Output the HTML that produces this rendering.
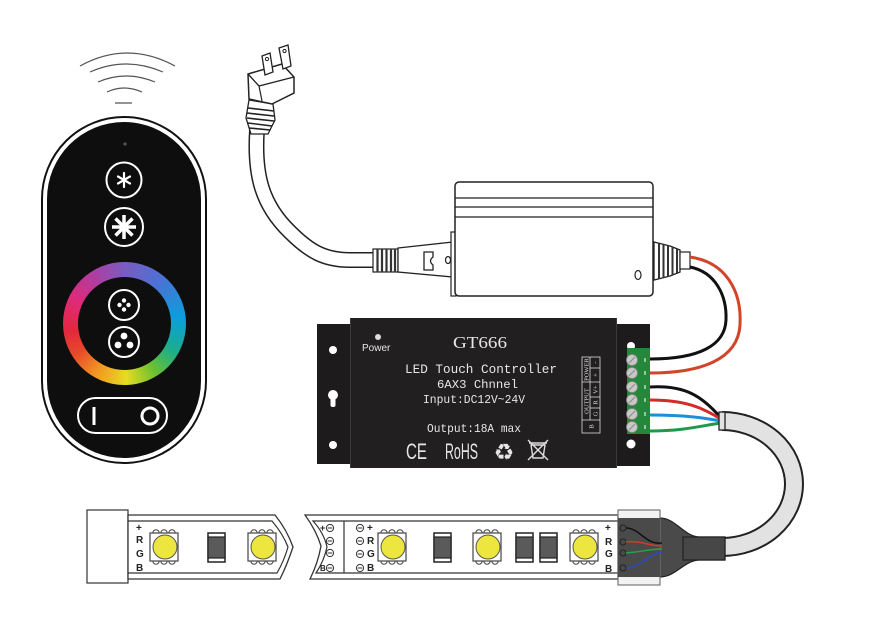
<!DOCTYPE html>
<html><head><meta charset="utf-8">
<style>
html,body{margin:0;padding:0;background:#fff;}
body{width:884px;height:630px;position:relative;overflow:hidden;}
svg{position:absolute;left:0;top:0;}
.ring{position:absolute;left:62.5px;top:261.5px;width:123px;height:123px;border-radius:50%;
background:conic-gradient(from 0deg,#7a5cc0 0deg,#4a72d4 40deg,#0c9edc 85deg,#1cae8a 120deg,#6cc030 148deg,#e6dc22 178deg,#f29a22 208deg,#e8482a 238deg,#e2283c 262deg,#e02a78 295deg,#b23c9e 325deg,#7a5cc0 360deg);}
.ringin{position:absolute;left:77.5px;top:276.5px;width:93px;height:93px;border-radius:50%;background:#0e0e0e;}
</style></head><body>
<svg width="884" height="630" viewBox="0 0 884 630">
<defs>
<g id="led">
<circle cx="-8" cy="-14" r="3.2" fill="#fff" stroke="#444" stroke-width="1"/>
<circle cx="0" cy="-14" r="3.2" fill="#fff" stroke="#444" stroke-width="1"/>
<circle cx="8" cy="-14" r="3.2" fill="#fff" stroke="#444" stroke-width="1"/>
<circle cx="-8" cy="14" r="3.2" fill="#fff" stroke="#444" stroke-width="1"/>
<circle cx="0" cy="14" r="3.2" fill="#fff" stroke="#444" stroke-width="1"/>
<circle cx="8" cy="14" r="3.2" fill="#fff" stroke="#444" stroke-width="1"/>
<rect x="-14" y="-14" width="28" height="28" fill="#fff" stroke="#444" stroke-width="1.2"/>
<circle cx="1" cy="0" r="12" fill="#ece63f" stroke="#555" stroke-width="1"/>
</g>
<g id="res">
<rect x="0" y="0" width="17" height="29" fill="#fff" stroke="#222" stroke-width="1.5"/>
<rect x="0" y="4" width="17" height="21" fill="#5a5a5a" stroke="#222" stroke-width="1.2"/>
</g>
<g id="minus">
<circle cx="0" cy="0" r="3.6" fill="none" stroke="#333" stroke-width="1"/>
<line x1="-2.4" y1="0" x2="2.4" y2="0" stroke="#333" stroke-width="1"/>
</g>
</defs>

<!-- wifi arcs -->
<g fill="none" stroke="#555" stroke-width="1.2">
<path d="M80,66 Q127,40 175,66"/>
<path d="M90,72 Q126,56 163,72"/>
<path d="M98,82 Q126,70 155,82"/>
<path d="M107,92 Q124,84 142,92"/>
<path d="M115,103 L132,103"/>
</g>

<!-- remote -->
<rect x="42" y="117" width="164" height="346" rx="82" fill="#fff" stroke="#111" stroke-width="2"/>
<rect x="47" y="122" width="154" height="336" rx="77" fill="#0e0e0e"/>
<circle cx="125" cy="144" r="1.6" fill="#555"/>
<circle cx="124" cy="180" r="17.5" fill="none" stroke="#fff" stroke-width="2"/>
<g stroke="#fff" stroke-width="2.2" stroke-linecap="round">
<line x1="124" y1="173" x2="124" y2="187"/>
<line x1="118" y1="176.5" x2="130" y2="183.5"/>
<line x1="118" y1="183.5" x2="130" y2="176.5"/>
</g>
<circle cx="124" cy="227" r="19" fill="none" stroke="#fff" stroke-width="2"/>
<g stroke="#fff" stroke-width="3.5" stroke-linecap="butt">
<line x1="124" y1="215" x2="124" y2="239"/>
<line x1="112" y1="227" x2="136" y2="227"/>
<line x1="115.5" y1="218.5" x2="132.5" y2="235.5"/>
<line x1="115.5" y1="235.5" x2="132.5" y2="218.5"/>
</g>
<rect x="78" y="398" width="89" height="35" rx="17.5" fill="none" stroke="#fff" stroke-width="2"/>
<line x1="94" y1="407" x2="94" y2="425" stroke="#fff" stroke-width="3"/>
<circle cx="150" cy="416" r="8" fill="none" stroke="#fff" stroke-width="3"/>

<!-- plug cord -->
<path d="M257,130 C254,175 262,205 290,232 C310,252 325,260 350,260 L376,260" fill="none" stroke="#222" stroke-width="16"/>
<path d="M257,130 C254,175 262,205 290,232 C310,252 325,260 350,260 L376,260" fill="none" stroke="#fff" stroke-width="13"/>
<polygon points="249,100 273,104 275,120 268,134 251,134 246,118" fill="#fff" stroke="#222" stroke-width="1.3"/>
<g stroke="#222" stroke-width="1.6">
<line x1="248" y1="108" x2="274" y2="111"/>
<line x1="247" y1="113" x2="274" y2="116"/>
<line x1="247" y1="118" x2="274" y2="121"/>
<line x1="248" y1="123" x2="272" y2="126"/>
<line x1="249" y1="128" x2="270" y2="130"/>
</g>
<polygon points="248,74 282,64 294,77 294,93 272,104 249,99" fill="#fff" stroke="#222" stroke-width="1.5"/>
<polyline points="248,74 259,86 294,77" fill="none" stroke="#222" stroke-width="1.3"/>
<line x1="259" y1="86" x2="262" y2="101" stroke="#222" stroke-width="1.2"/>
<polygon points="262,56 270,53 273,72 265,75" fill="#fff" stroke="#222" stroke-width="1.3"/>
<polygon points="279,48 288,45 291,66 283,69" fill="#fff" stroke="#222" stroke-width="1.3"/>
<circle cx="267" cy="59" r="1.6" fill="none" stroke="#222"/>
<circle cx="284.5" cy="51" r="1.6" fill="none" stroke="#222"/>

<!-- PSU connector -->
<rect x="373" y="249" width="25" height="23" fill="#fff" stroke="#222" stroke-width="1.2"/>
<g stroke="#333" stroke-width="2.2">
<line x1="377.5" y1="249" x2="377.5" y2="272"/>
<line x1="382" y1="249" x2="382" y2="272"/>
<line x1="386.5" y1="249" x2="386.5" y2="272"/>
<line x1="391" y1="249" x2="391" y2="272"/>
<line x1="395" y1="249" x2="395" y2="272"/>
</g>
<polygon points="398,248 453,242 453,277 398,272" fill="#fff" stroke="#222" stroke-width="1.3"/>
<path d="M424,252 L433,252 L433,257 Q428,261 433,265 L433,270 L424,270 Z" fill="none" stroke="#222" stroke-width="1.3"/>
<ellipse cx="448" cy="260" rx="2.5" ry="3.5" fill="none" stroke="#222" stroke-width="1.2"/>

<!-- PSU -->
<rect x="451" y="232" width="5" height="64" fill="#fff" stroke="#222" stroke-width="1.2"/>
<rect x="455" y="182" width="198" height="114" rx="4" fill="#fff" stroke="#222" stroke-width="1.5"/>
<g stroke="#222" stroke-width="1.3">
<line x1="455" y1="198" x2="653" y2="198"/>
<line x1="455" y1="207" x2="653" y2="207"/>
<line x1="455" y1="217" x2="653" y2="217"/>
</g>
<ellipse cx="638" cy="275" rx="3" ry="4.5" fill="none" stroke="#222" stroke-width="1.2"/>
<polygon points="654,242 670,246 680,250 680,272 670,276 654,280" fill="#fff" stroke="#222" stroke-width="1.3"/>
<g stroke="#333" stroke-width="2">
<line x1="659" y1="243" x2="659" y2="279"/>
<line x1="663.5" y1="244" x2="663.5" y2="278"/>
<line x1="668" y1="245" x2="668" y2="277"/>
<line x1="672.5" y1="247" x2="672.5" y2="275"/>
<line x1="677" y1="249" x2="677" y2="273"/>
</g>
<rect x="680" y="252" width="10" height="17" fill="#fff" stroke="#222" stroke-width="1.2"/>

<!-- PSU wires -->
<path d="M690,257 C725,262 742,290 740,325 C738,360 700,373 650,373" fill="none" stroke="#d2452a" stroke-width="3"/>
<path d="M690,267 C715,272 727,295 726,320 C725,345 700,359 650,359" fill="none" stroke="#111" stroke-width="3"/>

<!-- output wires -->
<path d="M650,387 C685,385 702,396 721,418" fill="none" stroke="#111" stroke-width="3"/>
<path d="M650,400 C690,400 705,410 721,419" fill="none" stroke="#d42a2a" stroke-width="3"/>
<path d="M650,415 C685,415 705,418 721,421" fill="none" stroke="#1e8fd6" stroke-width="3"/>
<path d="M650,431 C685,431 705,425 721,423" fill="none" stroke="#1f9a4a" stroke-width="3"/>

<!-- grey cable -->
<path d="M722,421 A72,63 0 0 1 722,547" fill="none" stroke="#222" stroke-width="20"/>
<path d="M722,421 A72,63 0 0 1 722,547" fill="none" stroke="#e2e2e2" stroke-width="16"/>
<rect x="719" y="412" width="6" height="18" fill="#e2e2e2" stroke="#222" stroke-width="1.3"/>

<!-- controller -->
<rect x="317" y="324" width="34" height="140" fill="#1e1b1c"/>
<rect x="616" y="324" width="34" height="142" fill="#1e1b1c"/>
<rect x="350" y="318" width="267" height="150" fill="#221f20"/>
<line x1="350.5" y1="318" x2="350.5" y2="468" stroke="#3a3a3a" stroke-width="1"/>
<line x1="616.5" y1="318" x2="616.5" y2="468" stroke="#3a3a3a" stroke-width="1"/>
<circle cx="333" cy="350" r="4" fill="#fff"/>
<circle cx="333" cy="395" r="5" fill="#fff"/>
<rect x="330.5" y="395" width="5" height="12" rx="2" fill="#fff"/>
<circle cx="333" cy="445" r="4" fill="#fff"/>
<circle cx="631" cy="346" r="4" fill="#fff"/>
<circle cx="631" cy="444" r="4.5" fill="#fff"/>
<rect x="627" y="348" width="23" height="86" fill="#23883a"/>
<g fill="#c8c8c8" stroke="#888" stroke-width="0.8">
<circle cx="632" cy="360" r="5.5"/><circle cx="632" cy="373" r="5.5"/><circle cx="632" cy="387" r="5.5"/>
<circle cx="632" cy="400" r="5.5"/><circle cx="632" cy="414" r="5.5"/><circle cx="632" cy="427" r="5.5"/>
</g>
<g stroke="#888" stroke-width="1">
<line x1="629" y1="363" x2="635" y2="357"/><line x1="629" y1="376" x2="635" y2="370"/><line x1="629" y1="390" x2="635" y2="384"/>
<line x1="629" y1="403" x2="635" y2="397"/><line x1="629" y1="417" x2="635" y2="411"/><line x1="629" y1="430" x2="635" y2="424"/>
</g>
<g stroke="#e8e8e8" stroke-width="1.2">
<line x1="645" y1="358" x2="645" y2="362"/><line x1="645" y1="371" x2="645" y2="375"/><line x1="645" y1="385" x2="645" y2="389"/>
<line x1="645" y1="398" x2="645" y2="402"/><line x1="645" y1="412" x2="645" y2="416"/><line x1="645" y1="425" x2="645" y2="429"/>
</g>

<circle cx="378" cy="337" r="3" fill="#ddd"/>
<g fill="#e6e6e6">
<text x="362" y="351" font-family="Liberation Sans, sans-serif" font-size="10">Power</text>
<text x="453" y="348" font-family="Liberation Serif, serif" font-size="17" textLength="54" lengthAdjust="spacingAndGlyphs">GT666</text>
<text x="405" y="373" font-family="Liberation Mono, monospace" font-size="12.5" textLength="152" lengthAdjust="spacingAndGlyphs">LED Touch Controller</text>
<text x="437" y="388" font-family="Liberation Mono, monospace" font-size="12" textLength="81" lengthAdjust="spacingAndGlyphs">6AX3 Chnnel</text>
<text x="423" y="403" font-family="Liberation Mono, monospace" font-size="12" textLength="102" lengthAdjust="spacingAndGlyphs">Input:DC12V~24V</text>
<text x="427" y="432" font-family="Liberation Mono, monospace" font-size="12" textLength="94" lengthAdjust="spacingAndGlyphs">Output:18A max</text>
<text x="406" y="459" font-family="Liberation Sans, sans-serif" font-size="22" textLength="21" lengthAdjust="spacingAndGlyphs">CE</text>
<text x="445" y="459" font-family="Liberation Sans Narrow, Liberation Sans, sans-serif" font-size="22" textLength="33" lengthAdjust="spacingAndGlyphs">RoHS</text>
<text x="504" y="460" text-anchor="middle" font-family="DejaVu Sans, sans-serif" font-size="23">♻</text>
</g>
<g stroke="#ddd" stroke-width="1.4" fill="none">
<path d="M531,445 L545,445 L543,458 L533,458 Z"/>
<line x1="529" y1="443" x2="547" y2="443"/>
<line x1="528" y1="440" x2="548" y2="460"/>
<line x1="548" y1="440" x2="528" y2="460"/>
</g>

<!-- label box -->
<g stroke="#ddd" stroke-width="0.8" fill="none">
<rect x="582" y="357" width="18" height="76"/>
<line x1="590" y1="357" x2="590" y2="420"/>
<line x1="582" y1="382" x2="600" y2="382"/>
<line x1="590" y1="368" x2="600" y2="368"/>
<line x1="590" y1="397" x2="600" y2="397"/>
<line x1="590" y1="408" x2="600" y2="408"/>
<line x1="582" y1="420" x2="600" y2="420"/>
</g>
<g fill="#ddd" font-family="Liberation Serif, serif" font-size="6.5" text-anchor="middle">
<text transform="translate(588.5,369.5) rotate(-90)">POWER</text>
<text transform="translate(588.5,401) rotate(-90)">OUTPUT</text>
<text transform="translate(597.5,362.5) rotate(-90)">-</text>
<text transform="translate(597.5,375) rotate(-90)">+</text>
<text transform="translate(597.5,389.5) rotate(-90)">V+</text>
<text transform="translate(597.5,402.5) rotate(-90)">R</text>
<text transform="translate(597.5,414) rotate(-90)">G</text>
<text transform="translate(593.5,426.5) rotate(-90)">B</text>
</g>

<!-- LED strip segment 1 -->
<rect x="87" y="510" width="41" height="73" fill="#fff" stroke="#333" stroke-width="1.2"/>
<path d="M128,515 L275,515 Q287,530 293,547 Q287,565 280,579 L128,579 Z" fill="#fff" stroke="#333" stroke-width="1.3"/>
<path d="M128,521 L272,521 Q283,534 288,547 Q284,561 277,573 L128,573" fill="none" stroke="#333" stroke-width="1.2"/>

<!-- segment 2 -->
<path d="M305,515 L618,515 L618,579 L310,579 Q318,563 321,546 Q316,530 305,515 Z" fill="#fff" stroke="#333" stroke-width="1.3"/>
<path d="M618,521 L313,521 Q324,533 327,547 Q324,561 316,573 L618,573" fill="none" stroke="#333" stroke-width="1.2"/>
<line x1="344" y1="521" x2="344" y2="573" stroke="#333" stroke-width="1.2"/>

<use href="#led" x="164" y="547"/>
<use href="#led" x="262" y="547"/>
<use href="#led" x="392" y="547"/>
<use href="#led" x="487" y="547"/>
<use href="#led" x="584" y="547"/>
<use href="#res" x="208" y="533"/>
<use href="#res" x="434" y="533"/>
<use href="#res" x="516" y="533"/>
<use href="#res" x="540" y="533"/>

<use href="#minus" x="330" y="528"/>
<use href="#minus" x="330" y="541"/>
<use href="#minus" x="330" y="553"/>
<use href="#minus" x="330" y="568"/>
<use href="#minus" x="360" y="528"/>
<use href="#minus" x="360" y="541"/>
<use href="#minus" x="360" y="554"/>
<use href="#minus" x="360" y="568"/>

<g fill="#222" font-family="Liberation Sans, sans-serif" font-weight="bold" font-size="10">
<text x="136" y="531">+</text>
<text x="136" y="543">R</text>
<text x="136" y="557">G</text>
<text x="136" y="571">B</text>
<text x="320" y="531" font-size="9">+</text>
<text x="320" y="571" font-size="8">B</text>
<text x="367" y="531">+</text>
<text x="367" y="544">R</text>
<text x="367" y="557">G</text>
<text x="367" y="571">B</text>
<text x="605" y="531">+</text>
<text x="605" y="545">R</text>
<text x="605" y="557">G</text>
<text x="605" y="572">B</text>
</g>

<!-- strip connector -->
<path d="M660,518 C676,518 684,537 700,537 L725,537 L725,560 L700,560 C684,560 676,577 660,577 Z" fill="#4a4a4a" stroke="#222" stroke-width="1.2"/>
<rect x="683" y="537" width="42" height="23" fill="#474747" stroke="#222" stroke-width="1.2"/>
<rect x="618" y="510" width="42" height="75" fill="#f2f2f2" stroke="#777" stroke-width="1.2"/>
<rect x="618" y="518" width="42" height="59" fill="#4a4a4a"/>
<g fill="none" stroke="#222" stroke-width="1">
<circle cx="623" cy="528" r="3"/><circle cx="623" cy="542" r="3"/><circle cx="623" cy="553" r="3"/><circle cx="623" cy="568" r="3"/>
</g>
<path d="M626,528 C640,528 645,545 662,543" fill="none" stroke="#111" stroke-width="1.5"/>
<path d="M626,542 C640,540 648,546 662,546" fill="none" stroke="#d43a2a" stroke-width="1.5"/>
<path d="M626,553 C640,552 650,549 662,549" fill="none" stroke="#2aa04a" stroke-width="1.5"/>
<path d="M626,568 C640,568 650,553 662,552" fill="none" stroke="#2a4ac0" stroke-width="1.5"/>
</svg>
<div class="ring"></div><div class="ringin"></div>
<svg width="884" height="630" viewBox="0 0 884 630">
<circle cx="124" cy="305" r="15" fill="none" stroke="#fff" stroke-width="2"/>
<g fill="#fff">
<circle cx="124" cy="300.5" r="2.2"/><circle cx="124" cy="309.5" r="2.2"/><circle cx="119.5" cy="305" r="2.2"/><circle cx="128.5" cy="305" r="2.2"/>
</g>
<circle cx="124" cy="342" r="15" fill="none" stroke="#fff" stroke-width="2"/>
<g fill="#fff">
<circle cx="124" cy="336" r="3.4"/><circle cx="118" cy="345" r="3.4"/><circle cx="130" cy="345" r="3.4"/>
</g>
</svg>
</body></html>
